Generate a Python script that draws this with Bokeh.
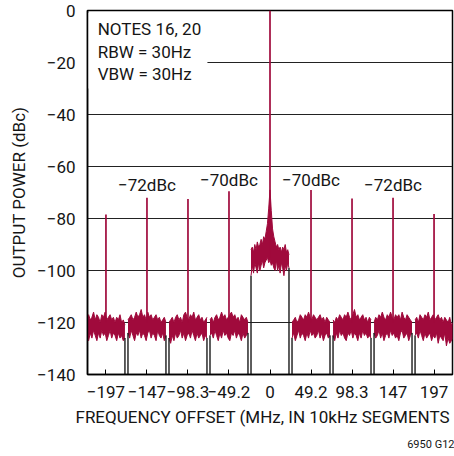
import numpy as np
from bokeh.plotting import figure
from bokeh.models import Range1d, FixedTicker, Title
from bokeh.core.properties import value
from bokeh.embed import file_html
from bokeh.resources import INLINE

# ---- data ----
SEG_MHZ = 49.15
seg_index = [-4, -3, -2, -1, 0, 1, 2, 3, 4]
x_tick_labels = ["\u2212197", "\u2212147", "\u221298.3", "\u221249.2", "0", "49.2", "98.3", "147", "197"]
y_ticks = [-140, -120, -100, -80, -60, -40, -20, 0]

# spur / carrier peak levels at each segment centre (dBc)
peak_levels = [-78.5, -72.0, -72.5, -69.5, 0.0, -69.0, -72.3, -72.0, -78.3]

# noise envelopes (upper / lower) of each outer segment (dBc)
noise_upper = {
    -4: [-118, -117, -119, -118, -116, -119, -117, -118, -120, -117, -118, -116, -119, -118, -117, -119, -118, -120, -118, -119, -117, -120, -119, -121],
    -3: [-119, -118, -117, -119, -118, -116, -118, -117, -115, -118, -117, -119, -116, -118, -117, -119, -118, -117, -119, -118, -120, -119, -118, -120],
    -2: [-120, -119, -118, -120, -118, -117, -119, -118, -120, -117, -116, -118, -119, -117, -118, -116, -119, -118, -117, -119, -118, -120, -119, -118],
    -1: [-119, -118, -120, -118, -117, -119, -118, -116, -118, -117, -119, -118, -117, -116, -118, -117, -119, -118, -120, -117, -118, -119, -118, -120],
    1:  [-120, -119, -118, -120, -119, -117, -118, -119, -117, -118, -116, -118, -119, -117, -118, -119, -118, -117, -119, -118, -120, -118, -119, -120],
    2:  [-119, -120, -118, -119, -117, -118, -119, -117, -118, -116, -118, -119, -117, -115, -118, -117, -119, -118, -117, -119, -118, -120, -118, -119],
    3:  [-120, -118, -119, -117, -118, -116, -118, -119, -117, -118, -116, -118, -119, -117, -118, -117, -119, -116, -118, -119, -117, -118, -119, -120],
    4:  [-119, -118, -120, -117, -118, -119, -117, -118, -116, -119, -118, -117, -119, -118, -117, -119, -118, -120, -118, -119, -120, -118, -121, -120],
}
noise_lower = {
    -4: [-125, -127, -124, -126, -123, -125, -127, -124, -126, -123, -125, -124, -127, -125, -123, -126, -124, -125, -127, -124, -126, -125, -127, -126],
    -3: [-124, -126, -123, -125, -127, -124, -125, -123, -126, -124, -125, -127, -124, -123, -126, -124, -125, -127, -123, -125, -126, -124, -127, -125],
    -2: [-126, -128, -125, -127, -124, -126, -125, -123, -126, -124, -127, -125, -124, -126, -123, -125, -127, -124, -126, -125, -124, -127, -125, -126],
    -1: [-125, -124, -126, -123, -125, -127, -124, -126, -123, -125, -124, -126, -127, -124, -125, -123, -126, -124, -125, -127, -124, -126, -125, -124],
    1:  [-126, -124, -127, -125, -123, -126, -124, -125, -127, -124, -126, -123, -125, -124, -126, -125, -123, -126, -124, -127, -125, -124, -126, -125],
    2:  [-125, -127, -124, -126, -123, -125, -124, -126, -127, -124, -125, -123, -126, -124, -125, -127, -124, -126, -123, -125, -124, -126, -125, -126],
    3:  [-124, -126, -125, -123, -126, -124, -127, -125, -124, -126, -123, -125, -124, -126, -125, -127, -124, -123, -126, -125, -124, -127, -125, -124],
    4:  [-125, -124, -126, -123, -125, -127, -124, -126, -125, -124, -127, -125, -126, -124, -128, -125, -126, -127, -124, -129, -126, -128, -127, -126],
}
# centre segment (carrier skirt in the middle)
centre_upper = [-92, -91, -93, -90, -92, -89, -91, -90, -88, -90, -87, -88, -85, -82, -76, -69,
                -77, -84, -87, -89, -91, -90, -92, -91, -93, -91, -92, -90, -93, -92, -94]
centre_lower = [-102, -98, -101, -97, -99, -101, -97, -100, -98, -96, -99, -97, -96, -95, -97, -96,
                -98, -97, -99, -100, -96, -100, -98, -101, -97, -99, -102, -98, -100, -97, -99]

spur_labels = ["\u221272dBc", "\u221270dBc", "\u221270dBc", "\u221272dBc"]
spur_label_seg = [-3, -1, 1, 3]
spur_label_level = [-67.3, -65.0, -65.0, -67.3]

notes = ["NOTES 16, 20", "RBW = 30Hz", "VBW = 30Hz"]
notes_level = [-7.3, -16.1, -24.4]

TRACE = "#A00A3C"
INK = "#151515"
FONT = "Roboto"
FS_TICK = "17px"
FS_TEXT = "17px"

p = figure(width=454, height=456, output_backend="svg", toolbar_location=None,
           x_range=Range1d(-4.45 * SEG_MHZ, 4.45 * SEG_MHZ), y_range=Range1d(-140, 0),
           min_border_left=87, min_border_right=2, min_border_top=10, min_border_bottom=82)
p.background_fill_color = "white"
p.border_fill_color = "white"
p.outline_line_color = "black"
p.outline_line_width = 1.5

# grid
p.xgrid.visible = False
p.ygrid.ticker = FixedTicker(ticks=y_ticks)
p.ygrid.grid_line_color = "#222222"
p.ygrid.grid_line_width = 1

# notes background box (hides grid behind text)
p.quad(left=[-4.45 * SEG_MHZ], right=[-75], top=[-1], bottom=[-30],
       fill_color="white", line_color=None)

half = 0.463
centres = [k * SEG_MHZ for k in seg_index]
for k in seg_index:
    c = k * SEG_MHZ
    if k == 0:
        up, lo = centre_upper, centre_lower
    else:
        up, lo = noise_upper[k], noise_lower[k]
    xs = c + np.linspace(-half, half, len(up)) * SEG_MHZ
    p.varea(x=xs, y1=lo, y2=up, fill_color=TRACE)
    p.line(x=xs, y=up, line_color=TRACE, line_width=1)
    p.line(x=xs, y=lo, line_color=TRACE, line_width=1)
    # trace dropping to the floor between segments
    p.segment(x0=[xs[0], xs[-1]], y0=[lo[0], lo[-1]], x1=[xs[0], xs[-1]], y1=[-140, -140],
              line_color="#1a1a1a", line_width=1.4)

# spurs and carrier
p.segment(x0=centres, x1=centres, y0=[-120 if k else -95 for k in seg_index], y1=peak_levels,
          line_color=TRACE, line_width=1.7)

# spur labels
p.text(x=[k * SEG_MHZ for k in spur_label_seg], y=spur_label_level, text=spur_labels,
       text_font=value(FONT), text_font_size=FS_TEXT, text_align="center", text_baseline="middle",
       text_color=INK)

# notes
p.text(x=[-206.5] * 3, y=notes_level, text=notes,
       text_font=value(FONT), text_font_size=FS_TEXT, text_align="left", text_baseline="middle",
       text_color=INK)

# axes
p.xaxis.ticker = FixedTicker(ticks=centres)
p.xaxis.major_label_overrides = {c: l for c, l in zip(centres, x_tick_labels)}
p.xaxis.major_tick_in = 5
p.xaxis.major_tick_out = 0
p.xaxis.minor_tick_line_color = None
p.yaxis.ticker = FixedTicker(ticks=y_ticks)
p.yaxis.major_label_overrides = {t: ("\u2212" + str(-t) if t < 0 else "0") for t in y_ticks}
p.yaxis.major_tick_in = 0
p.yaxis.major_tick_out = 0
p.yaxis.minor_tick_line_color = None
p.yaxis.axis_label = "OUTPUT POWER (dBc)"
for ax in (p.xaxis[0], p.yaxis[0]):
    ax.axis_line_color = "black"
    ax.axis_line_width = 1.5
    ax.major_tick_line_color = "black"
    ax.major_label_text_font = FONT
    ax.major_label_text_font_size = FS_TICK
    ax.major_label_text_color = INK
    ax.axis_label_text_font = FONT
    ax.axis_label_text_font_size = FS_TEXT
    ax.axis_label_text_font_style = "normal"
    ax.axis_label_text_color = INK
p.xaxis.major_label_standoff = 11
p.yaxis.major_label_standoff = 12
p.yaxis.axis_label_standoff = 5

# x-axis title (as a below title so it can sit left of centre like the original)
p.add_layout(Title(text="FREQUENCY OFFSET (MHz, IN 10kHz SEGMENTS", align="left", offset=-12,
                   text_font=FONT, text_font_size=FS_TEXT, text_font_style="normal",
                   text_color=INK, standoff=9), "below")
# figure code, bottom right
p.add_layout(Title(text="6950 G12", align="right", offset=-2, text_font=FONT, text_font_size="11px",
                   text_font_style="normal", text_color=INK, standoff=9), "below")

open("out.html", "w").write(file_html(p, INLINE))
